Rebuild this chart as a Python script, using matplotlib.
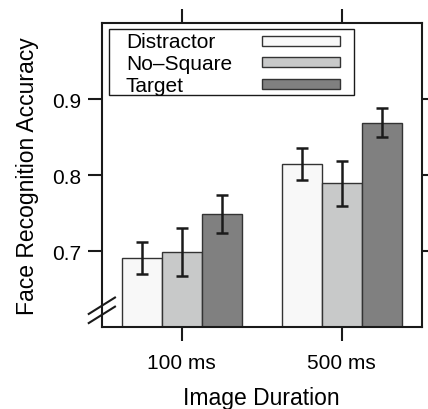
import matplotlib.pyplot as plt
from matplotlib.patches import Rectangle
import numpy as np

plt.rcParams['font.family'] = ['Liberation Sans', 'DejaVu Sans']

# data
durations = ['100 ms', '500 ms']
conditions = ['Distractor', 'No\u2013Square', 'Target']
accuracy = {
    'Distractor': [0.691, 0.815],
    'No\u2013Square': [0.699, 0.789],
    'Target': [0.749, 0.869],
}
errors = {
    'Distractor': [0.021, 0.021],
    'No\u2013Square': [0.032, 0.030],
    'Target': [0.025, 0.019],
}
colors = ['#f8f8f8', '#c8c9c9', '#808080']

fig = plt.figure(figsize=(4.28, 4.10), dpi=100)
ax = fig.add_axes([0.238, 0.2, 0.747, 0.741])

x = np.arange(1, len(durations) + 1)
width = 0.25
for i, (cond, col) in enumerate(zip(conditions, colors)):
    pos = x + (i - 1) * width
    ax.bar(pos, accuracy[cond], width, color=col,
           edgecolor='#333333', linewidth=1.0, zorder=2)
    ax.errorbar(pos, accuracy[cond], yerr=errors[cond], fmt='none',
                ecolor='#1a1a1a', elinewidth=1.8, capsize=4.5, capthick=1.8, zorder=3)

ax.set_xlim(0.5, 2.5)
ax.set_ylim(0.6, 1.0)
ax.set_xticks(x)
ax.set_xticklabels(durations)
ax.set_yticks([0.7, 0.8, 0.9])
ax.set_yticklabels(['0.7', '0.8', '0.9'])
ax.tick_params(axis='both', direction='out', length=10, width=1.5,
               labelsize=15, color='#1a1a1a',
               top=True, right=True, labeltop=False, labelright=False)
ax.tick_params(axis='x', pad=9)
ax.tick_params(axis='y', pad=5)
for sp in ax.spines.values():
    sp.set_linewidth(1.5)
    sp.set_color('#1a1a1a')

ax.set_xlabel('Image Duration', fontsize=16.5, labelpad=10)
ax.set_ylabel('Face Recognition Accuracy', fontsize=16.5, labelpad=9)

# axis break marks
for y0 in (0.013, 0.043):
    ax.plot([-0.041, 0.041], [y0, y0 + 0.054], transform=ax.transAxes,
            color='#1a1a1a', lw=1.5, clip_on=False, zorder=5)

# legend: labels on the left, swatches on the right
ax.add_patch(Rectangle((0.022, 0.763), 0.766, 0.217, transform=ax.transAxes,
                       facecolor='white', edgecolor='#1a1a1a', lw=1.0, zorder=4))
row_y = [0.942, 0.871, 0.799]
for cond, col, ry in zip(conditions, colors, row_y):
    ax.text(0.075, ry - 0.021, cond, transform=ax.transAxes, fontsize=15,
            ha='left', va='baseline', zorder=5)
    ax.add_patch(Rectangle((0.501, ry - 0.0165), 0.245, 0.033, transform=ax.transAxes,
                           facecolor=col, edgecolor='#333333', lw=1.0, zorder=5))

fig.savefig('out.png', dpi=100)
